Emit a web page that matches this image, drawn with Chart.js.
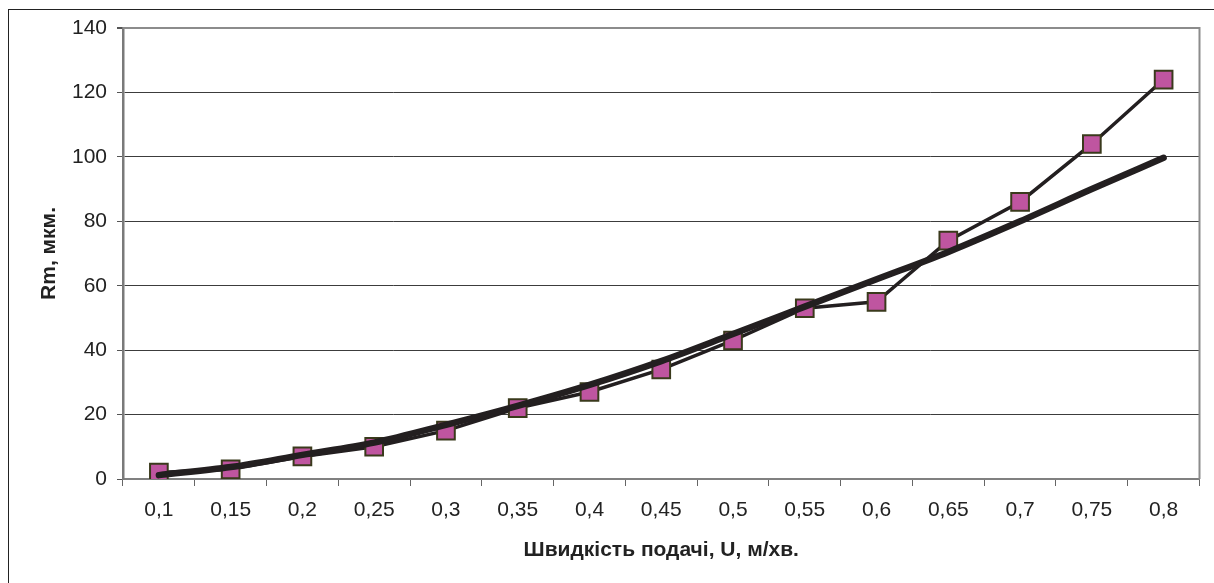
<!DOCTYPE html>
<html>
<head>
<meta charset="utf-8">
<script src="https://cdn.jsdelivr.net/npm/chart.js@4.4.1/dist/chart.umd.min.js"></script>
<style>
  body { margin: 0; background: #fff; overflow: hidden; }
  #frame { position: absolute; left: 8px; top: 9px; width: 1300px; height: 700px; border: 1.5px solid #222; }
  #chart { position: absolute; left: 0; top: 0; }
</style>
</head>
<body>
<div id="frame"></div>
<canvas id="chart" width="1214" height="583"></canvas>
<script>
// data
var feeds = ['0,1', '0,15', '0,2', '0,25', '0,3', '0,35', '0,4', '0,45', '0,5', '0,55', '0,6', '0,65', '0,7', '0,75', '0,8'];
var rmValues = [2, 3, 7, 10, 15, 22, 27, 34, 43, 53, 55, 74, 86, 104, 124];
var trendValues = [1.2, 3.7, 7.5, 11.3, 16.8, 22.7, 29.2, 36.6, 45, 53.5, 62, 70.5, 80, 90, 99.7];

var fontName = '"Liberation Sans", Arial, sans-serif';

// grey frame on top and right of the plot area
var plotFrame = {
  id: 'plotFrame',
  afterDatasetsDraw: function(chart) {
    var a = chart.chartArea, c = chart.ctx;
    c.save();
    c.strokeStyle = '#8c8c8c';
    c.lineWidth = 2;
    c.beginPath();
    c.moveTo(a.left, a.top);
    c.lineTo(a.right, a.top);
    c.lineTo(a.right, a.bottom);
    c.stroke();
    c.restore();
  }
};

var chart = new Chart(document.getElementById('chart'), {
  type: 'line',
  data: {
    labels: feeds,
    datasets: [{
      label: 'trend',
      data: trendValues,
      borderColor: '#231f20',
      borderWidth: 6.5,
      borderCapStyle: 'round',
      pointRadius: 0,
      cubicInterpolationMode: 'monotone',
      order: 0
    }, {
      label: 'Rm',
      data: rmValues,
      borderColor: '#231f20',
      borderWidth: 3.5,
      pointStyle: 'rect',
      pointRadius: 12.5,
      pointBackgroundColor: '#bf55a0',
      pointBorderColor: '#3a3a1c',
      pointBorderWidth: 2,
      order: 1
    }]
  },
  options: {
    responsive: false,
    animation: false,
    layout: { padding: { top: 28, right: 10, left: 0, bottom: 0 } },
    plugins: { legend: { display: false }, tooltip: { enabled: false } },
    scales: {
      x: {
        offset: true,
        afterFit: function(s) { s.height = 104; },
        border: { color: '#808080', width: 2 },
        grid: { offset: true, drawOnChartArea: false, tickLength: 7, tickColor: '#666' },
        ticks: { color: '#222', padding: 12, font: { family: fontName, size: 21 }, maxRotation: 0, autoSkip: false },
        title: { display: true, text: 'Швидкість подачі, U, м/хв.', color: '#222', padding: { top: 0, bottom: 20 }, font: { family: fontName, size: 21, weight: 'bold' } }
      },
      y: {
        min: 0,
        max: 140,
        afterFit: function(s) { s.width = 123; },
        border: { color: '#7a7a7a', width: 2.5 },
        grid: {
          tickLength: 6,
          tickColor: '#555',
          color: function(c) { return c.tick && c.tick.value === 140 ? '#8c8c8c' : '#3c3c3c'; },
          lineWidth: function(c) { return c.tick && c.tick.value === 140 ? 2 : 1; }
        },
        ticks: { stepSize: 20, color: '#222', padding: 10, font: { family: fontName, size: 21 } },
        title: { display: true, text: 'Rm, мкм.', color: '#222', padding: { top: 37, bottom: 0 }, font: { family: fontName, size: 21, weight: 'bold' } }
      }
    }
  },
  plugins: [plotFrame]
});
</script>
</body>
</html>
